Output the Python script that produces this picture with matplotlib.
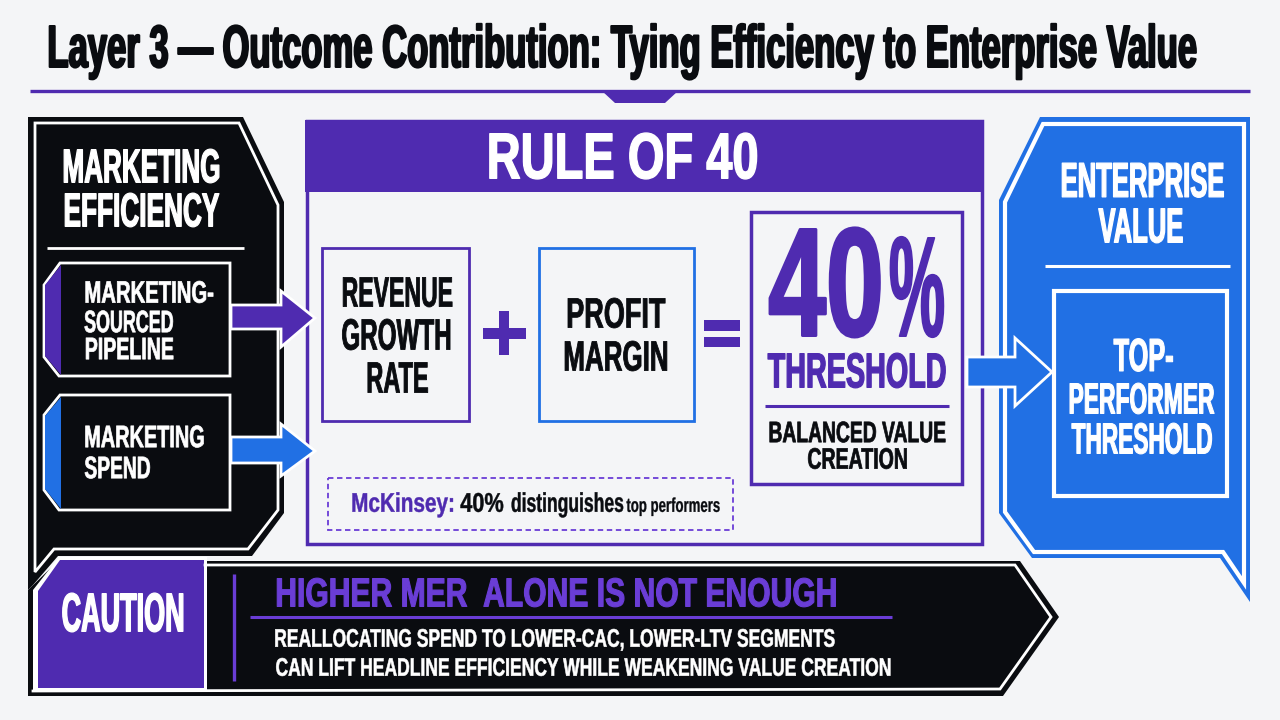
import matplotlib
matplotlib.use("Agg")
import matplotlib.pyplot as plt
from matplotlib.patches import Polygon, Rectangle
from matplotlib.patheffects import AbstractPathEffect
from matplotlib.transforms import Affine2D

BG = "#f4f5f7"
PURPLE = "#4f2bb0"
VIOLET = "#6a3dd6"
BLUE = "#2170e4"
BLACK = "#0a0c10"
WHITE = "#ffffff"

title = "Layer 3 — Outcome Contribution: Tying Efficiency to Enterprise Value"
left_head = ["MARKETING", "EFFICIENCY"]
pipeline = ["MARKETING-", "SOURCED", "PIPELINE"]
spend = ["MARKETING", "SPEND"]
rule_head = "RULE OF 40"
revenue = ["REVENUE", "GROWTH", "RATE"]
profit = ["PROFIT", "MARGIN"]
big_value = ["40", "%"]
threshold = "THRESHOLD"
balanced = ["BALANCED VALUE", "CREATION"]
note = ["McKinsey:", "40%", "distinguishes", "top performers"]
right_head = ["ENTERPRISE", "VALUE"]
top_perf = ["TOP-", "PERFORMER", "THRESHOLD"]
caution = "CAUTION"
caution_head = "HIGHER MER  ALONE IS NOT ENOUGH"
caution_body = ["REALLOCATING SPEND TO LOWER-CAC, LOWER-LTV SEGMENTS",
                "CAN LIFT HEADLINE EFFICIENCY WHILE WEAKENING VALUE CREATION"]

fig = plt.figure(figsize=(12.8, 7.2), dpi=100, facecolor=BG)
ax = fig.add_axes([0, 0, 1, 1])
ax.set_xlim(0, 1280)
ax.set_ylim(720, 0)
ax.axis("off")
CAP = 0.688  # cap height of Liberation Sans, in em


# stretches a text upward from its baseline, the fonts here have no condensed cut
class Stretch(AbstractPathEffect):
    def __init__(self, sy, py, lw):
        super().__init__()
        self.sy, self.py, self.lw = sy, py, lw

    def draw_path(self, renderer, gc, tpath, affine, rgbFace=None):
        t = affine + Affine2D().translate(0, -self.py).scale(1, self.sy).translate(0, self.py)
        gc0 = renderer.new_gc()
        gc0.copy_properties(gc)
        gc0.set_linewidth(self.lw)
        gc0.set_foreground(rgbFace)
        renderer.draw_path(gc0, tpath, t, rgbFace)
        gc0.restore()


def label(s, x0, x1, yc, cap, color=WHITE, lw=0.6):
    stroke = lw * 100 / 72
    base = yc + cap / 2 - stroke / 2
    t = ax.text((x0 + x1) / 2, base, s, color=color, fontsize=20, ha="center",
                va="baseline", family="Liberation Sans", weight="bold")
    w = t.get_window_extent(fig.canvas.get_renderer()).width
    size = 20 * (x1 - x0 - stroke) / w
    t.set_fontsize(size)
    sy = (cap - stroke) / (CAP * size * 100 / 72)
    t.set_path_effects([Stretch(sy, 720 - base, lw)])
    return t


def poly(pts, fc, ec="none", lw=0):
    ax.add_patch(Polygon(pts, closed=True, fc=fc, ec=ec, lw=lw, joinstyle="miter"))


def box(x0, y0, x1, y1, ec, lw, ls="-"):
    ax.add_patch(Rectangle((x0, y0), x1 - x0, y1 - y0, fc="none", ec=ec, lw=lw, ls=ls, joinstyle="miter"))


def block(x0, y0, x1, y1, color):
    ax.add_patch(Rectangle((x0, y0), x1 - x0, y1 - y0, fc=color, ec="none"))


def hline(x0, x1, y, color, lw):
    ax.plot([x0, x1], [y, y], color=color, lw=lw, solid_capstyle="butt")


# title and rule
label(title, 47, 1198, 46.5, 43, BLACK, lw=1.5)
hline(30, 1250, 91, PURPLE, 2.4)
poly([(602, 91), (678, 91), (665, 103), (615, 103)], PURPLE)

# left panel
poly([(28, 117), (243, 117), (284, 202), (284, 513), (252, 556), (58, 556), (33, 585), (28, 590)], BLACK)
poly([(35, 123), (239, 123), (278, 205), (278, 510), (248, 549), (54, 549), (35, 572)], "none", WHITE, 2)
label(left_head[0], 62, 221, 166, 34, lw=0.9)
label(left_head[1], 63, 220, 210, 34, lw=0.9)
hline(47, 244, 248, WHITE, 2)

poly([(60, 263), (230, 263), (230, 376), (59, 376), (44, 357), (44, 285)], BLACK, WHITE, 2)
poly([(61, 265), (45, 285), (45, 356), (61, 375)], PURPLE)
label(pipeline[0], 84, 214, 292, 22, lw=0.5)
label(pipeline[1], 84, 174, 321.5, 22, lw=0.5)
label(pipeline[2], 84, 174, 348.5, 22, lw=0.5)

poly([(60, 395), (230, 395), (230, 510), (59, 510), (44, 490), (44, 415)], BLACK, WHITE, 2)
poly([(61, 397), (45, 416), (45, 489), (61, 509)], BLUE)
label(spend[0], 84, 205, 436.5, 22, lw=0.5)
label(spend[1], 84, 151, 467.5, 22, lw=0.5)

# rule of 40 panel
box(307, 121, 982, 544, PURPLE, 2.5)
block(305, 120, 984, 192, PURPLE)
label(rule_head, 486, 759, 156, 46, lw=1.0)

# arrows out of the left panel
poly([(231, 305), (281, 305), (281, 291), (315, 318), (281, 347), (281, 329), (231, 329)], PURPLE, WHITE, 2)
poly([(231, 437), (281, 437), (281, 424), (315, 451), (281, 476), (281, 463), (231, 463)], BLUE, WHITE, 2)

box(322, 248, 469, 421, PURPLE, 2)
label(revenue[0], 341, 453, 292, 30, BLACK, lw=0.6)
label(revenue[1], 341, 452, 334.5, 31, BLACK, lw=0.6)
label(revenue[2], 366, 429, 377.5, 31, BLACK, lw=0.6)
block(483, 328, 526, 339, PURPLE)
block(499, 311, 509, 355, PURPLE)

box(539, 248, 694, 421, BLUE, 2)
label(profit[0], 566, 666, 313, 30, BLACK, lw=0.6)
label(profit[1], 563, 669, 356, 30, BLACK, lw=0.6)
block(704, 320, 740, 331, PURPLE)
block(704, 337, 740, 347, PURPLE)

box(751, 212, 962, 484, PURPLE, 2.5)
label(big_value[0], 767, 885, 282.5, 109, PURPLE, lw=2.0)
label(big_value[1], 888, 946, 287, 100, PURPLE, lw=1.2)
label(threshold, 767, 947, 370.5, 35, PURPLE, lw=0.9)
hline(765, 949, 406, PURPLE, 2.2)
label(balanced[0], 768, 946, 432, 21, BLACK, lw=0.5)
label(balanced[1], 807, 908, 458.5, 21, BLACK, lw=0.5)

box(328, 478, 733, 530, VIOLET, 1.3, ls=(0, (3, 2)))
label(note[0], 351, 455, 502.5, 19, PURPLE, lw=0.3)
label(note[1], 460, 504, 502.5, 19, BLACK, lw=0.3)
label(note[2], 511, 624, 502.5, 19, BLACK, lw=0.3)
label(note[3], 626, 720, 505, 14, BLACK, lw=0.2)

# enterprise panel
poly([(1040, 117), (1250, 117), (1250, 602), (1220, 558), (1032, 558), (999, 513), (999, 200)], BLUE)
poly([(1043, 124), (1244, 124), (1244, 583), (1223, 552), (1034, 552), (1005, 512), (1005, 202)], "none", WHITE, 3)
label(right_head[0], 1060, 1225, 180, 35, lw=0.9)
label(right_head[1], 1098, 1184, 225.5, 35, lw=0.9)
hline(1045, 1230, 266, WHITE, 2.2)
box(1054, 291, 1227, 496, WHITE, 3)
label(top_perf[0], 1113, 1174, 355, 33, lw=0.8)
label(top_perf[1], 1068, 1215, 398.5, 31, lw=0.8)
label(top_perf[2], 1071, 1213, 438.5, 31, lw=0.8)
poly([(967, 357), (1015, 357), (1015, 338), (1052, 372), (1015, 406), (1015, 387), (967, 387)], BLUE, WHITE, 2)

# caution bar
poly([(28, 696), (1003, 696), (1059, 617), (1020, 561), (58, 561), (28, 590)], BLACK)
ax.plot([205, 1015, 1051, 1000, 33], [565, 565, 617, 689, 691], color=WHITE, lw=2, solid_joinstyle="miter")
poly([(33, 692), (33, 590), (59, 557), (207, 557), (207, 692)], WHITE)
poly([(38, 688), (38, 591), (60, 560), (204, 560), (204, 688)], PURPLE)
label(caution, 61, 185, 612.5, 39, lw=1.0)
ax.plot([234, 234], [574, 681], color=VIOLET, lw=2.4, solid_capstyle="butt")
label(caution_head, 275, 838, 592.5, 29, VIOLET, lw=0.8)
hline(250, 892, 617, VIOLET, 2.2)
label(caution_body[0], 274, 835, 638, 18, lw=0.4)
label(caution_body[1], 274, 890, 667, 18, lw=0.4)

fig.savefig("out.png", dpi=100, facecolor=BG)
